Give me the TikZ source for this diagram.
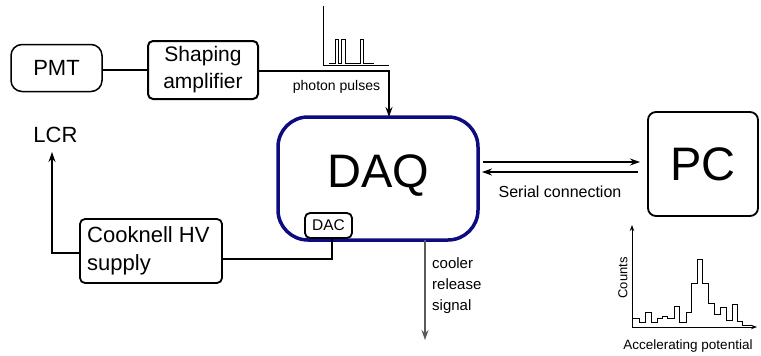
\documentclass[tikz,border=0pt]{standalone}
\usepackage{fontspec}
\setmainfont{Liberation Sans}
\usetikzlibrary{arrows.meta,calc}
\definecolor{daqblue}{RGB}{12,12,128}
\definecolor{sigray}{RGB}{90,90,90}
\tikzset{
  box/.style={draw=black, line width=2pt, rounded corners=5pt, inner sep=0pt, fill=white},
  wire/.style={draw=black, line width=1.2pt},
  arr/.style={wire, -{Stealth[length=10pt,width=7pt]}},
  smallarr/.style={draw=black, line width=1pt, -{Stealth[length=6pt,width=4.5pt]}},
  lbl/.style={inner sep=0pt, font=\fontsize{#1}{#1}\selectfont},
}
\begin{document}
\begin{tikzpicture}[x=1pt,y=-1pt]
\useasboundingbox (0,0) rectangle (761,356);

% --- detector chain ---
\node[box, rounded corners=11pt, line width=1.5pt, minimum width=91pt, minimum height=47pt,
      font=\fontsize{22}{22}\selectfont] (pmt) at (56.5,68) {PMT};
\node[box, minimum width=110pt, minimum height=58pt, align=center,
      font=\fontsize{21}{27}\selectfont] (shp) at (203,70) {Shaping\\amplifier};

% --- acquisition box ---
\node[draw=daqblue, line width=3.5pt, rounded corners=30pt, inner sep=0pt,
      minimum width=200pt, minimum height=123pt] (daq) at (378,178.5) {};
\node[lbl=47] (daqtxt) at (378,176) {DAQ};
\node[box, line width=1.8pt, minimum width=47pt, minimum height=25pt,
      font=\fontsize{15.5}{15.5}\selectfont] (dac) at (328.5,225.5) {DAC};

% --- PC ---
\node[box, rounded corners=8pt, line width=1.8pt, minimum width=110pt, minimum height=104pt,
      font=\fontsize{47}{47}\selectfont] (pc) at (703,164) {PC};

% --- HV supply and LCR ---
\node[box, line width=1.8pt, minimum width=142pt, minimum height=64pt] (hv) at (151,251) {};
\node[lbl=22, anchor=west, align=left, font=\fontsize{22}{28}\selectfont] (hvtxt) at (87,251) {Cooknell HV\\supply};
\node[lbl=22] (lcr) at (55.5,135) {LCR};

% --- connector end points ---
\coordinate (daqin) at (389,117);
\coordinate (hvin) at (222,259);
\coordinate (lcrin) at (52,152);
\coordinate (coolfrom) at (425,240);
\coordinate (coolto) at (425,340);
\coordinate (sA) at (483,162);
\coordinate (sB) at (640,162);
\coordinate (sC) at (638,172);
\coordinate (sD) at (482,172);

% --- connectors ---
\draw[wire] (pmt.east |- 0,70) -- (shp.west |- 0,70);
\draw[arr] (shp.east |- 0,71) -| (daqin);
\node[lbl=14, anchor=center] (pp) at (336.5,87) {photon pulses};
\draw[wire] (dac.south -| 332,0) |- (hvin);
\draw[arr] (hv.west |- 0,253) -| (lcrin);
\draw[draw=sigray, line width=1.2pt, -{Stealth[length=10pt,width=7pt]}] (coolfrom) -- (coolto);
\node[anchor=north west, align=left, inner sep=0pt, font=\fontsize{15}{21}\selectfont] (cool) at (432,257) {cooler\\release\\signal};
\draw[arr] (sA) -- (sB);
\draw[arr] (sC) -- (sD);
\node[lbl=16] (ser) at (560,192) {Serial connection};

% --- pulse trace ---
\coordinate (po) at (323,65);
\coordinate (py) at (323,6);
\coordinate (px) at (389,65);
\draw[line width=1pt] (py) -- (po) -- (px);
\draw[line width=1pt] (329,63) -- (335,63) -- (335,39) -- (338,39) -- (338,63)
  -- (341.5,63) -- (341.5,39) -- (345,39) -- (345,63) -- (360,63) -- (360,39)
  -- (363,39) -- (363,63) -- (374,63);

% --- spectrum ---
\coordinate (ho) at (632,327);
\coordinate (hy) at (632,225);
\coordinate (hx) at (757,327);
\draw[smallarr] (ho) -- (hy);
\draw[smallarr] (ho) -- (hx);
\draw[line width=1pt] (632,318) -- (639,318) -- (639,322) -- (645,322) -- (645,312)
  -- (651,312) -- (651,322) -- (657,322) -- (657,318) -- (662,318) -- (662,316)
  -- (667,316) -- (667,318) -- (674,318) -- (674,306) -- (679,306) -- (679,322)
  -- (686,322) -- (686,312) -- (691,312) -- (691,283) -- (697,283) -- (697,259)
  -- (702,259) -- (702,283) -- (708,283) -- (708,303) -- (714,303) -- (714,314)
  -- (720,314) -- (720,307) -- (726,307) -- (726,320) -- (732,320) -- (732,304)
  -- (737,304) -- (737,321) -- (742,321) -- (742,325) -- (752,325);
\node[lbl=13, rotate=90] (cnt) at (623,278) {Counts};
\node[lbl=13.5] (acc) at (688,346) {Accelerating potential};
\end{tikzpicture}
\end{document}
